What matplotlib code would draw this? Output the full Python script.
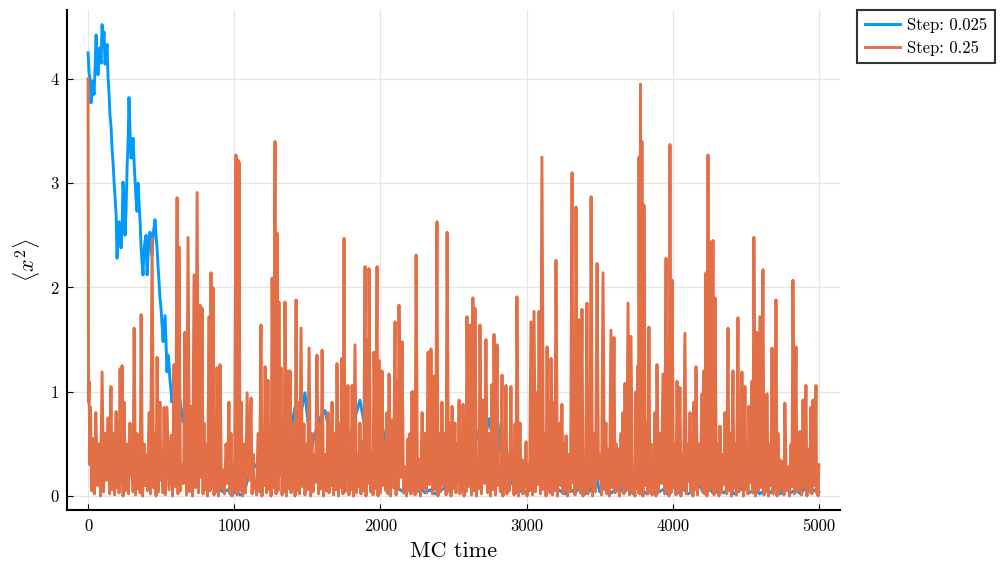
import matplotlib
matplotlib.use("Agg")
import matplotlib.pyplot as plt

plt.rcParams['font.family'] = ['cmr10', 'DejaVu Serif']
plt.rcParams['mathtext.fontset'] = 'cm'
plt.rcParams['axes.unicode_minus'] = False
plt.rcParams['axes.formatter.use_mathtext'] = True

# ---------------- data ----------------
blue_label = "Step: 0.025"
orange_label = "Step: 0.25"

blue_t = [0, 7, 14, 20, 27, 34, 41, 48, 55, 62,
          68, 75, 82, 89, 96, 103, 109, 116, 123, 130,
          137, 144, 150, 157, 164, 171, 178, 185, 192, 198,
          205, 212, 219, 226, 233, 239, 246, 253, 260, 267,
          274, 280, 287, 294, 301, 308, 315, 322, 328, 335,
          342, 349, 356, 363, 369, 376, 383, 390, 397, 404,
          410, 417, 424, 431, 438, 445, 458, 465, 472, 479,
          486, 492, 499, 506, 513, 520, 527, 533, 540, 547,
          554, 561, 568, 574, 588, 602, 622, 636, 650, 670,
          691, 705, 725, 746, 759, 787, 807, 821, 855, 889,
          923, 958, 978, 1012, 1040, 1060, 1081, 1108, 1142, 1177,
          1211, 1245, 1279, 1313, 1347, 1382, 1416, 1450, 1484, 1505,
          1525, 1553, 1587, 1621, 1655, 1689, 1724, 1758, 1792, 1826,
          1860, 1888, 1908, 1943, 1977, 1997, 2018, 2038, 2065, 2100,
          2134, 2168, 2202, 2237, 2271, 2305, 2339, 2373, 2408, 2442,
          2476, 2510, 2544, 2558, 2585, 2613, 2647, 2668, 2695, 2715,
          2743, 2763, 2784, 2804, 2825, 2852, 2886, 2921, 2955, 2989,
          3023, 3057, 3078, 3098, 3119, 3150, 3187, 3228, 3262, 3296,
          3330, 3364, 3398, 3432, 3475, 3500, 3535, 3570, 3605, 3632,
          3660, 3695, 3730, 3762, 3790, 3825, 3860, 3895, 3930, 3965,
          4000, 4035, 4070, 4105, 4140, 4175, 4210, 4245, 4280, 4315,
          4350, 4385, 4420, 4455, 4490, 4525, 4560, 4595, 4630, 4665,
          4700, 4735, 4770, 4805, 4840, 4875, 4910, 4945, 4975, 5000]
blue_v = [4.25, 4.05, 4.0, 3.77, 3.9, 3.98, 3.85, 4.1, 4.42, 4.2,
          4.04, 4.2, 4.3, 4.15, 4.52, 4.35, 4.45, 4.14, 4.25, 4.33,
          4.01, 3.85, 3.65, 3.55, 3.34, 3.2, 3.01, 2.85, 2.7, 2.28,
          2.45, 2.63, 2.5, 2.38, 2.6, 3.01, 2.8, 2.5, 2.75, 3.15,
          3.4, 3.82, 3.5, 3.24, 3.3, 3.43, 3.2, 3.01, 2.85, 2.73,
          3.0, 2.8, 2.63, 2.38, 2.25, 2.12, 2.35, 2.45, 2.5, 2.12,
          2.3, 2.45, 2.53, 2.4, 2.31, 2.5, 2.65, 2.5, 2.38, 2.2,
          2.05, 1.9, 1.8, 1.65, 1.48, 1.6, 1.73, 1.48, 1.19, 1.35,
          1.26, 1.1, 1.0, 0.9, 1.16, 1.0, 0.97, 0.85, 0.71, 0.77,
          0.52, 0.6, 0.36, 0.4, 0.3, 0.2, 0.25, 0.1, 0.14, 0.08,
          0.04, 0.06, 0.01, 0.05, 0.01, 0.02, 0.1, 0.25, 0.3, 0.22,
          0.28, 0.2, 0.25, 0.45, 0.7, 0.6, 0.85, 0.75, 0.99, 0.7,
          0.44, 0.6, 0.75, 0.82, 0.6, 0.45, 0.66, 0.5, 0.55, 0.75,
          0.92, 0.7, 0.52, 0.3, 0.18, 0.4, 0.64, 0.45, 0.27, 0.12,
          0.06, 0.03, 0.09, 0.04, 0.08, 0.03, 0.06, 0.02, 0.05, 0.08,
          0.04, 0.1, 0.2, 0.37, 0.2, 0.35, 0.5, 0.6, 0.73, 0.55,
          0.74, 0.6, 0.52, 0.7, 0.4, 0.3, 0.15, 0.08, 0.05, 0.03,
          0.06, 0.1, 0.15, 0.25, 0.45, 0.3, 0.1, 0.05, 0.02, 0.07,
          0.03, 0.08, 0.02, 0.05, 0.2, 0.04, 0.09, 0.02, 0.06, 0.2,
          0.03, 0.07, 0.02, 0.2, 0.05, 0.02, 0.08, 0.03, 0.06, 0.02,
          0.1, 0.03, 0.07, 0.02, 0.05, 0.12, 0.03, 0.08, 0.02, 0.06,
          0.03, 0.09, 0.02, 0.05, 0.1, 0.03, 0.07, 0.02, 0.06, 0.03,
          0.08, 0.02, 0.12, 0.03, 0.06, 0.02, 0.09, 0.03, 0.06, 0.04]

# orange series: local maxima (time, value) and the low value reached right after each
orange_t = [0, 7, 17, 34, 53, 75, 96, 116, 137, 157,
            171, 192, 205, 219, 233, 246, 267, 287, 301, 315,
            335, 349, 363, 383, 397, 417, 438, 458, 472, 492,
            506, 520, 540, 568, 588, 609, 622, 643, 663, 684,
            705, 725, 746, 766, 780, 793, 807, 828, 841, 855,
            869, 882, 903, 923, 944, 964, 978, 992, 1012, 1026,
            1033, 1047, 1067, 1088, 1115, 1129, 1142, 1163, 1183, 1197,
            1211, 1231, 1245, 1259, 1279, 1293, 1306, 1320, 1334, 1347,
            1368, 1382, 1395, 1409, 1423, 1436, 1457, 1477, 1491, 1512,
            1532, 1546, 1566, 1587, 1601, 1621, 1642, 1655, 1669, 1689,
            1703, 1724, 1737, 1751, 1765, 1778, 1792, 1806, 1826, 1847,
            1860, 1874, 1895, 1908, 1922, 1943, 1956, 1977, 1990, 2011,
            2031, 2045, 2059, 2079, 2100, 2114, 2127, 2148, 2168, 2189,
            2202, 2216, 2230, 2244, 2264, 2285, 2305, 2326, 2346, 2367,
            2387, 2401, 2421, 2442, 2456, 2476, 2490, 2510, 2524, 2538,
            2551, 2565, 2579, 2592, 2613, 2633, 2647, 2668, 2681, 2702,
            2722, 2743, 2763, 2777, 2798, 2811, 2832, 2845, 2859, 2873,
            2893, 2907, 2921, 2934, 2955, 2969, 2982, 2996, 3010, 3030,
            3051, 3071, 3085, 3105, 3126, 3140, 3153, 3167, 3187, 3201,
            3222, 3242, 3256, 3270, 3290, 3311, 3324, 3338, 3359, 3379,
            3393, 3413, 3427, 3441, 3461, 3482, 3502, 3523, 3543, 3557,
            3577, 3598, 3612, 3625, 3646, 3659, 3673, 3694, 3714, 3735,
            3748, 3762, 3769, 3779, 3789, 3803, 3824, 3837, 3851, 3865,
            3878, 3892, 3912, 3933, 3954, 3967, 3981, 3995, 4015, 4029,
            4049, 4063, 4083, 4104, 4118, 4131, 4145, 4159, 4179, 4200,
            4213, 4227, 4241, 4254, 4275, 4289, 4309, 4323, 4343, 4357,
            4378, 4391, 4412, 4425, 4446, 4460, 4473, 4494, 4508, 4521,
            4542, 4555, 4576, 4596, 4617, 4631, 4644, 4665, 4679, 4692,
            4706, 4720, 4733, 4754, 4767, 4788, 4809, 4822, 4843, 4856,
            4870, 4891, 4911, 4925, 4945, 4959, 4980, 4987, 5000]
orange_peak = [4.0, 1.1, 0.85, 0.55, 0.80, 0.5, 1.19, 0.6, 0.75, 1.05,
               0.6, 0.81, 0.7, 1.22, 1.25, 0.9, 0.5, 0.7, 0.45, 1.61,
               0.6, 0.35, 1.74, 0.5, 0.4, 0.8, 2.47, 0.6, 1.33, 0.9,
               0.4, 0.85, 0.85, 0.58, 1.26, 2.86, 2.39, 0.3, 1.57, 2.48,
               0.86, 2.12, 2.91, 1.83, 1.80, 0.7, 0.5, 1.72, 2.14, 2.0,
               0.6, 1.23, 1.26, 0.25, 0.5, 0.9, 0.6, 0.3, 3.27, 3.22,
               3.2, 0.9, 0.5, 0.99, 0.94, 0.4, 0.15, 0.6, 1.64, 0.5,
               1.24, 1.11, 0.6, 2.09, 3.40, 2.52, 1.86, 1.23, 0.5, 1.86,
               1.2, 1.2, 0.5, 0.7, 1.88, 0.9, 1.61, 0.69, 0.5, 1.42,
               0.6, 0.4, 1.35, 0.7, 1.40, 0.4, 0.8, 0.69, 0.9, 0.6,
               1.27, 0.7, 1.32, 2.47, 0.8, 1.06, 0.5, 1.06, 1.45, 0.4,
               0.7, 0.52, 2.2, 1.5, 2.18, 0.4, 1.38, 2.2, 1.3, 1.2,
               0.52, 0.8, 1.17, 0.73, 1.67, 1.1, 1.83, 1.48, 0.28, 0.55,
               0.6, 1.0, 1.0, 2.31, 0.35, 0.8, 0.6, 1.38, 1.41, 1.15,
               2.63, 0.6, 0.9, 0.6, 2.53, 0.7, 0.86, 0.7, 0.5, 0.92,
               0.6, 0.88, 0.35, 1.72, 1.64, 1.9, 1.8, 0.35, 1.64, 0.92,
               1.5, 0.6, 1.07, 1.55, 1.45, 0.15, 1.16, 0.5, 1.06, 0.4,
               1.05, 0.3, 0.69, 1.91, 0.7, 0.35, 0.3, 0.52, 0.3, 1.67,
               1.77, 0.99, 1.77, 3.25, 0.6, 1.43, 0.9, 1.32, 0.9, 2.26,
               0.7, 0.88, 0.5, 0.58, 0.4, 3.1, 1.0, 2.77, 1.69, 1.79,
               0.2, 1.85, 0.9, 2.87, 0.6, 2.23, 0.4, 2.14, 0.7, 0.45,
               1.59, 1.52, 0.5, 0.45, 0.6, 0.8, 1.08, 1.85, 1.53, 0.1,
               1.0, 1.25, 3.25, 3.95, 3.4, 2.79, 0.7, 1.62, 0.5, 0.3,
               0.8, 1.26, 0.6, 1.17, 2.28, 0.8, 3.37, 2.07, 0.5, 1.1,
               1.04, 0.4, 1.56, 0.5, 0.8, 0.6, 0.9, 1.24, 0.5, 0.98,
               1.2, 2.14, 3.27, 2.44, 2.45, 1.9, 0.5, 0.67, 0.4, 0.8,
               1.61, 0.6, 1.2, 0.5, 1.71, 0.7, 1.19, 1.05, 0.4, 0.86,
               1.1, 2.48, 1.57, 1.72, 2.17, 0.6, 0.98, 0.5, 1.42, 0.6,
               1.88, 0.6, 0.35, 0.33, 0.89, 0.28, 0.5, 2.07, 1.43, 0.35,
               0.62, 0.92, 1.06, 0.45, 0.85, 0.92, 1.06, 0.3, 0.3]
orange_low = [0.9, 0.3, 0.05, 0.02, 0.1, 0.0, 0.04, 0.15, 0.02, 0.06,
              0.01, 0.08, 0.03, 0.12, 0.0, 0.05, 0.02, 0.2, 0.04, 0.01,
              0.07, 0.03, 0.0, 0.1, 0.05, 0.02, 0.08, 0.0, 0.04, 0.15,
              0.03, 0.01, 0.06, 0.0, 0.09, 0.02, 0.05, 0.12, 0.01, 0.04,
              0.0, 0.08, 0.03, 0.18, 0.02, 0.06, 0.0, 0.05, 0.1, 0.01,
              0.04, 0.0, 0.07, 0.02, 0.12, 0.03, 0.0, 0.06, 0.01, 0.09,
              0.05, 0.0, 0.03, 0.15, 0.02, 0.07, 0.01, 0.04, 0.0, 0.1,
              0.03, 0.06, 0.0, 0.08, 0.02, 0.05, 0.2, 0.01, 0.04, 0.0,
              0.07, 0.03, 0.11, 0.0, 0.05, 0.02, 0.09, 0.01, 0.06, 0.0,
              0.04, 0.13, 0.02, 0.07, 0.0, 0.05, 0.03, 0.1, 0.01, 0.06,
              0.0, 0.08, 0.02, 0.04, 0.15, 0.01, 0.06, 0.0, 0.03, 0.09,
              0.02, 0.05, 0.0, 0.12, 0.04, 0.01, 0.07, 0.0, 0.03, 0.1,
              0.05, 0.02, 0.0, 0.08, 0.01, 0.06, 0.18, 0.03, 0.0, 0.05,
              0.02, 0.09, 0.01, 0.04, 0.0, 0.07, 0.03, 0.11, 0.02, 0.06,
              0.0, 0.04, 0.1, 0.01, 0.05, 0.0, 0.08, 0.03, 0.14, 0.02,
              0.06, 0.0, 0.04, 0.09, 0.01, 0.05, 0.0, 0.07, 0.02, 0.12,
              0.03, 0.0, 0.06, 0.01, 0.1, 0.04, 0.0, 0.08, 0.02, 0.05,
              0.15, 0.01, 0.03, 0.0, 0.07, 0.02, 0.09, 0.0, 0.05, 0.01,
              0.04, 0.11, 0.02, 0.06, 0.0, 0.08, 0.03, 0.01, 0.05, 0.0,
              0.1, 0.02, 0.06, 0.0, 0.04, 0.13, 0.01, 0.07, 0.03, 0.0,
              0.05, 0.02, 0.09, 0.0, 0.04, 0.16, 0.01, 0.06, 0.02, 0.0,
              0.08, 0.03, 0.05, 0.0, 0.11, 0.02, 0.06, 0.01, 0.04, 0.0,
              0.07, 0.03, 0.02, 0.06, 0.0, 0.1, 0.02, 0.05, 0.01, 0.08,
              0.0, 0.04, 0.12, 0.02, 0.06, 0.0, 0.03, 0.09, 0.01, 0.05,
              0.0, 0.07, 0.02, 0.14, 0.03, 0.0, 0.06, 0.01, 0.1, 0.04,
              0.02, 0.0, 0.05, 0.08, 0.01, 0.06, 0.0, 0.03, 0.11, 0.02,
              0.05, 0.0, 0.07, 0.01, 0.04, 0.09, 0.0, 0.06, 0.02, 0.13,
              0.03, 0.0, 0.05, 0.08, 0.01, 0.04, 0.0, 0.1, 0.02, 0.06,
              0.0, 0.03, 0.07, 0.01, 0.05, 0.0, 0.09, 0.02, 0.04, 0.06,
              0.01, 0.08, 0.0, 0.05, 0.02, 0.1, 0.03, 0.0, 0.04]

x_ticks = [0, 1000, 2000, 3000, 4000, 5000]
y_ticks = [0, 1, 2, 3, 4]

# ---------------- build the orange path (peak, then the low that follows it) ----------
ox, oy = [], []
n = len(orange_t)
for i in range(n):
    ox.append(orange_t[i])
    oy.append(orange_peak[i])
    if i < n - 1 and i < len(orange_low):
        ox.append(0.5 * (orange_t[i] + orange_t[i + 1]))
        oy.append(orange_low[i])

# ---------------- figure ----------------
fig = plt.figure(figsize=(10.01, 5.61), dpi=100)
ax = fig.add_axes([67 / 1001, 1 - 510 / 561, (840 - 67) / 1001, (510 - 10) / 561])

c_blue = '#009AFA'
c_orange = '#E26F46'
ax.plot(blue_t, blue_v, color=c_blue, lw=2.1, label=blue_label)
ax.plot(ox, oy, color=c_orange, lw=2.1, label=orange_label)

ax.set_xlim(-144, 5144)
ax.set_ylim(-0.134, 4.66)
ax.set_xticks(x_ticks)
ax.set_yticks(y_ticks)
ax.set_xticklabels([str(v) for v in x_ticks])
ax.set_yticklabels([str(v) for v in y_ticks])

ax.grid(True, color='#e6e6e6', lw=0.9)
ax.set_axisbelow(True)
for s in ['top', 'right']:
    ax.spines[s].set_visible(False)
for s in ['left', 'bottom']:
    ax.spines[s].set_linewidth(1.5)
    ax.spines[s].set_color('black')
ax.tick_params(direction='in', length=4, width=0.8, labelsize=12, colors='black', pad=6)

ax.set_xlabel('MC time', fontsize=16, labelpad=6)
ax.set_ylabel(r'$\langle x^2 \rangle$', fontsize=16, labelpad=6)

leg = ax.legend(loc='upper left', bbox_to_anchor=(857 / 1001, 1 - 10 / 561),
                bbox_transform=fig.transFigure, fontsize=12, frameon=True,
                fancybox=False, borderaxespad=0, handlelength=2.1,
                handletextpad=0.45, borderpad=0.45, labelspacing=0.45)
leg.get_frame().set_edgecolor('black')
leg.get_frame().set_linewidth(1.5)

fig.savefig('out.png', dpi=100)
